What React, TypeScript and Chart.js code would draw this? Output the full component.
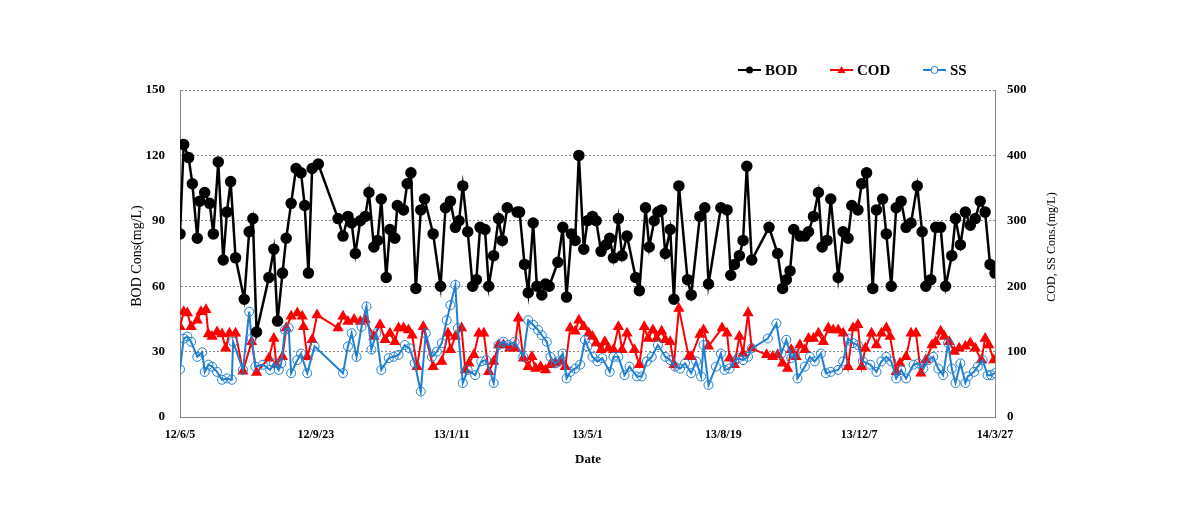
import { useEffect, useRef } from 'react';
import { Chart, registerables } from 'chart.js';

Chart.register(...registerables);

// x values: days since 2012-06-05
const tickDays = [0, 110, 220, 330, 440, 550, 660];
const tickLabels = ['12/6/5', '12/9/23', '13/1/11', '13/5/1', '13/8/19', '13/12/7', '14/3/27'];

const bodDays = [0,3,7,10,14,16,20,24,27,31,35,38,41,45,52,56,59,62,72,76,79,83,86,90,94,98,101,104,107,112,128,132,136,139,142,146,150,153,157,160,163,167,170,174,176,181,184,187,191,195,198,205,211,215,219,223,226,229,233,237,240,243,247,250,254,258,261,265,273,275,279,282,286,289,293,296,299,306,310,313,317,320,323,327,330,334,337,341,345,348,351,355,358,362,369,372,377,380,384,387,390,393,397,400,404,411,414,421,425,428,438,443,446,449,453,456,459,463,477,484,488,491,494,497,502,506,509,513,517,520,524,527,533,537,541,544,549,552,556,561,564,569,572,576,580,584,588,592,597,601,604,608,612,616,620,625,628,632,636,640,644,648,652,656,660];
const bodValues = [84,125,119,107,82,99,103,98,84,117,72,94,108,73,54,85,91,39,64,77,44,66,82,98,114,112,97,66,114,116,91,83,92,89,75,90,92,103,78,81,100,64,86,82,97,95,107,112,59,95,100,84,60,96,99,87,90,106,85,60,63,87,86,60,74,91,81,96,94,94,70,57,89,60,56,61,60,71,87,55,84,81,120,77,90,92,90,76,79,82,73,91,74,83,64,58,96,78,90,94,95,75,86,54,106,63,56,92,96,61,96,95,65,70,74,81,115,72,87,75,59,63,67,86,83,83,85,92,103,78,81,100,64,85,82,97,95,107,112,59,95,100,84,60,96,99,87,89,106,85,60,63,87,87,60,74,91,79,94,88,91,99,94,70,66];

const codDays = [0,3,6,9,14,17,21,23,26,30,34,37,40,45,51,58,62,72,76,78,83,86,90,95,99,100,103,107,111,128,132,136,141,146,150,157,162,166,170,174,177,181,185,188,192,197,205,212,217,219,223,228,231,234,238,242,246,250,254,258,262,267,271,274,278,282,285,288,292,296,300,304,308,312,316,320,323,327,331,334,337,341,344,347,351,355,358,362,368,372,376,379,383,386,390,393,397,400,404,412,414,421,424,428,439,443,445,449,453,456,460,463,475,480,484,488,492,495,499,502,506,509,513,517,521,525,529,533,537,541,545,549,552,555,560,564,568,572,575,580,583,588,592,596,600,604,609,612,616,619,623,627,631,636,640,644,649,652,655,659];
const codValues = [138,161,159,138,148,161,164,127,123,130,127,105,128,128,70,115,68,90,120,80,92,136,154,159,154,138,92,118,156,136,154,146,149,146,149,123,141,118,128,115,136,136,133,125,77,138,77,85,128,103,123,136,72,82,95,128,128,69,85,110,110,105,105,151,90,77,92,74,77,72,80,82,85,77,136,131,148,138,128,123,113,103,115,105,103,138,103,128,103,80,138,120,133,120,131,118,115,80,166,92,92,126,133,108,136,128,90,80,123,97,159,105,95,92,95,82,74,103,92,110,103,120,120,128,115,136,133,133,128,77,136,141,77,105,128,110,128,136,123,69,82,92,128,128,67,87,110,115,131,123,115,100,105,108,113,105,87,120,110,87];

const ssDays = [0,3,6,9,14,18,20,23,26,30,34,38,42,43,51,56,58,61,67,73,76,80,82,85,88,90,95,98,103,109,132,136,139,143,147,151,155,159,163,169,173,177,182,186,190,195,199,204,208,212,216,219,223,225,229,233,239,244,248,254,258,262,266,271,278,282,286,290,293,297,300,304,306,310,313,316,320,324,328,330,334,338,342,348,351,355,360,364,370,374,378,382,387,393,397,401,405,409,414,418,422,424,428,434,438,441,445,449,452,456,460,463,476,483,487,491,495,498,500,506,510,514,519,523,527,533,537,541,545,549,553,559,564,568,572,576,580,584,588,594,598,602,606,610,614,618,622,625,628,632,636,638,643,646,650,654,657,660];
const ssValues = [73,120,123,115,92,99,69,80,77,69,57,59,57,115,72,161,120,77,80,72,82,72,82,133,136,67,87,97,67,108,67,108,128,92,138,169,103,128,72,90,92,95,110,105,82,39,128,92,100,113,148,171,202,136,52,72,64,85,87,52,110,115,110,115,92,148,141,133,125,115,92,82,85,97,59,69,74,80,118,108,92,85,90,69,92,92,64,77,62,62,85,92,110,92,87,77,74,82,67,85,62,110,49,77,97,72,74,85,90,87,92,105,120,143,97,118,90,97,59,77,92,85,97,67,69,72,85,120,113,110,85,80,69,85,92,85,59,72,59,80,82,74,87,92,74,64,113,74,52,82,52,62,69,77,87,64,64,67];

const FONT = '"Liberation Serif", "Times New Roman", serif';
const BLACK = '#000000';
const RED = '#ff0000';
const BLUE = '#1f7fd0';
const GRID = '#868686';

const pts = (xs: number[], ys: number[]) => xs.map((x, i) => ({ x, y: ys[i] }));

const overlay = {
  id: 'overlay',
  afterDraw(chart: any) {
    const ctx = chart.ctx as CanvasRenderingContext2D;
    ctx.save();
    // legend
    const items = [
      { label: 'BOD', color: BLACK, x: 738, kind: 'dot' },
      { label: 'COD', color: RED, x: 830, kind: 'tri' },
      { label: 'SS', color: BLUE, x: 923, kind: 'ring' },
    ];
    const ly = 70;
    items.forEach((it) => {
      ctx.strokeStyle = it.color;
      ctx.fillStyle = it.color;
      ctx.lineWidth = 2;
      ctx.beginPath();
      ctx.moveTo(it.x, ly);
      ctx.lineTo(it.x + 23, ly);
      ctx.stroke();
      const cx = it.x + 11.5;
      if (it.kind === 'dot') {
        ctx.beginPath();
        ctx.arc(cx, ly, 3.5, 0, Math.PI * 2);
        ctx.fill();
      } else if (it.kind === 'tri') {
        ctx.beginPath();
        ctx.moveTo(cx, ly - 4);
        ctx.lineTo(cx + 4, ly + 3);
        ctx.lineTo(cx - 4, ly + 3);
        ctx.closePath();
        ctx.fill();
      } else {
        ctx.fillStyle = '#ffffff';
        ctx.lineWidth = 1;
        ctx.beginPath();
        ctx.arc(cx, ly, 3.5, 0, Math.PI * 2);
        ctx.fill();
        ctx.stroke();
      }
      ctx.fillStyle = '#000000';
      ctx.font = 'bold 15px ' + FONT;
      ctx.textAlign = 'left';
      ctx.textBaseline = 'middle';
      ctx.fillText(it.label, it.x + 27, ly + 1);
    });
    // axis titles
    ctx.fillStyle = '#000000';
    ctx.textAlign = 'center';
    ctx.textBaseline = 'middle';
    ctx.font = '14px ' + FONT;
    ctx.save();
    ctx.translate(137, 256);
    ctx.rotate(-Math.PI / 2);
    ctx.fillText('BOD Cons(mg/L)', 0, 0);
    ctx.restore();
    ctx.save();
    ctx.font = '12px ' + FONT;
    ctx.translate(1052, 247);
    ctx.rotate(-Math.PI / 2);
    ctx.fillText('COD, SS Cons.(mg/L)', 0, 0);
    ctx.restore();
    ctx.font = 'bold 13px ' + FONT;
    ctx.fillText('Date', 588, 460);
    ctx.restore();
  },
};

export default function App() {
  const ref = useRef<HTMLCanvasElement | null>(null);
  useEffect(() => {
    document.body.style.margin = '0';
    const canvas = ref.current;
    if (!canvas) return;
    const chart = new Chart(canvas, {
      type: 'line',
      data: {
        datasets: [
          {
            label: 'BOD',
            data: pts(bodDays, bodValues),
            yAxisID: 'y',
            borderColor: BLACK,
            backgroundColor: BLACK,
            borderWidth: 2.5,
            pointRadius: 4.5,
            pointStyle: 'circle',
            pointBackgroundColor: BLACK,
            pointBorderColor: BLACK,
            tension: 0,
            order: 0,
          },
          {
            label: 'COD',
            data: pts(codDays, codValues),
            yAxisID: 'y2',
            borderColor: RED,
            backgroundColor: RED,
            borderWidth: 2,
            pointRadius: 4.5,
            pointStyle: 'triangle',
            pointBackgroundColor: RED,
            pointBorderColor: RED,
            tension: 0,
            order: 2,
          },
          {
            label: 'SS',
            data: pts(ssDays, ssValues),
            yAxisID: 'y2',
            borderColor: BLUE,
            backgroundColor: 'rgba(0,0,0,0)',
            borderWidth: 2,
            pointRadius: 4.5,
            pointStyle: 'circle',
            pointBackgroundColor: 'rgba(0,0,0,0)',
            pointBorderColor: BLUE,
            pointBorderWidth: 1,
            tension: 0,
            order: 1,
          },
        ],
      },
      options: {
        responsive: false,
        animation: false,
        layout: { padding: { top: 90, left: 0, right: 0, bottom: 0 } },
        plugins: { legend: { display: false }, tooltip: { enabled: false } },
        scales: {
          x: {
            type: 'linear',
            min: 0,
            max: 660,
            grid: { display: false, drawTicks: false },
            border: { display: true, color: GRID, width: 1 },
            afterBuildTicks: (s: any) => {
              s.ticks = tickDays.map((v) => ({ value: v }));
            },
            afterFit: (s: any) => {
              s.height = 98;
            },
            ticks: {
              autoSkip: false,
              maxRotation: 0,
              minRotation: 0,
              padding: 11,
              color: '#000',
              font: { family: FONT, size: 12, weight: 'bold' },
              callback: (v: any) => {
                const i = tickDays.indexOf(Number(v));
                return i >= 0 ? tickLabels[i] : '';
              },
            },
          },
          y: {
            position: 'left',
            min: 0,
            max: 150,
            grid: {
              drawTicks: false,
              lineWidth: 1,
              color: (c: any) => (c.tick && c.tick.value === 0 ? 'rgba(0,0,0,0)' : GRID),
            },
            border: { display: true, color: GRID, width: 1, dash: [2, 2] },
            afterFit: (s: any) => {
              s.width = 180;
            },
            ticks: {
              stepSize: 30,
              padding: 15,
              color: '#000',
              font: { family: FONT, size: 13, weight: 'bold' },
            },
          },
          y2: {
            position: 'right',
            min: 0,
            max: 500,
            grid: { display: false, drawTicks: false },
            border: { display: true, color: GRID, width: 1 },
            afterFit: (s: any) => {
              s.width = 195;
            },
            ticks: {
              stepSize: 100,
              padding: 12,
              color: '#000',
              font: { family: FONT, size: 13, weight: 'bold' },
            },
          },
        },
      } as any,
      plugins: [overlay],
    });
    return () => chart.destroy();
  }, []);
  return <canvas ref={ref} width={1190} height={515} style={{ display: 'block', width: 1190, height: 515 }} />;
}
